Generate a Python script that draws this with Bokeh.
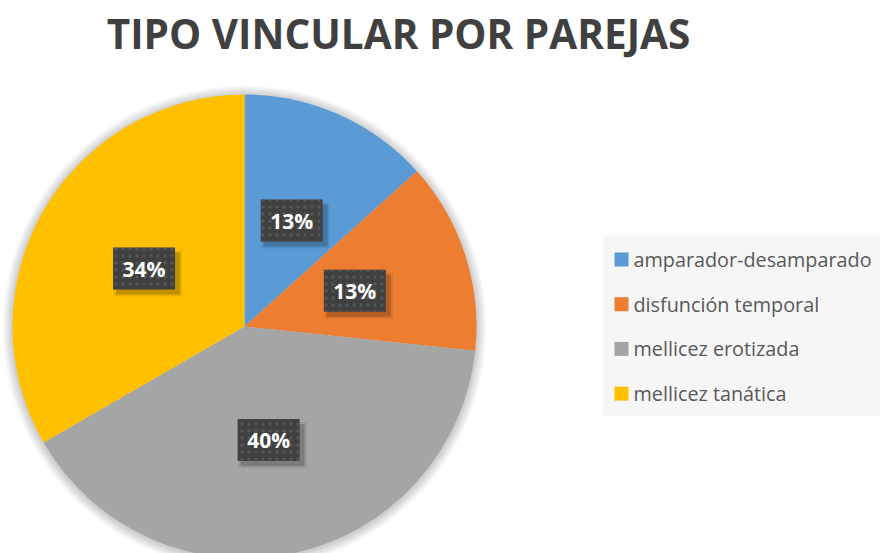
import math
from bokeh.plotting import figure
from bokeh.models import ColumnDataSource, Range1d, Label
from bokeh.embed import file_html
from bokeh.resources import INLINE
from bokeh.core.properties import value

# ---- data ----
title_text = "TIPO VINCULAR POR PAREJAS"
categories = ["amparador-desamparado", "disfunción temporal", "mellicez erotizada", "mellicez tanática"]
counts = [2, 2, 6, 5]
pct_labels = ["13%", "13%", "40%", "34%"]
colors = ["#5B9BD5", "#ED7D31", "#A5A5A5", "#FFC000"]

W, H = 880, 553
cx, cy, R = 244, H - 326, 232

total = sum(counts)
starts, ends, mids = [], [], []
acc = 0
for c in counts:
    a0 = math.pi / 2 - 2 * math.pi * acc / total
    acc += c
    a1 = math.pi / 2 - 2 * math.pi * acc / total
    starts.append(a0)
    ends.append(a1)
    mids.append((a0 + a1) / 2)

lx = [cx + 0.5 * R * math.cos(m) for m in mids]
ly = [cy + 0.5 * R * math.sin(m) for m in mids]

src = ColumnDataSource(dict(cat=categories, start=starts, end=ends, color=colors,
                            lab=pct_labels, lx=lx, ly=ly,
                            sx=[x + 4 for x in lx], sy=[y - 5 for y in ly]))

p = figure(width=W, height=H, x_range=Range1d(0, W), y_range=Range1d(0, H),
           output_backend="svg", toolbar_location=None, min_border=0,
           x_axis_type=None, y_axis_type=None)
p.grid.visible = False
p.outline_line_color = None
p.background_fill_color = "white"

# soft glow around the pie
for k in range(1, 11):
    p.circle(x=cx, y=cy - 1, radius=R + k, fill_color="black", fill_alpha=0.018, line_color=None)

p.wedge(x=cx, y=cy, radius=R, start_angle="start", end_angle="end",
        direction="clock", fill_color="color", line_color=None, source=src)

# label boxes with shadow
p.rect(x="sx", y="sy", width=64, height=42, fill_color="black", fill_alpha=0.18, line_color=None, source=src)
p.rect(x="sx", y="sy", width=68, height=46, fill_color="black", fill_alpha=0.08, line_color=None, source=src)
p.rect(x="lx", y="ly", width=62, height=42, fill_color="#404040", line_color=None,
       hatch_pattern="dot", hatch_color="#555555", hatch_scale=7, hatch_weight=2, source=src)
p.text(x="lx", y="ly", text="lab", text_align="center", text_baseline="middle",
       text_font=value("Open Sans"), text_font_style="bold", text_font_size="21px",
       text_color="white", source=src)

title = Label(x=398, y=H - 33, text=title_text, text_align="center", text_baseline="middle",
              text_font="Open Sans", text_font_style="bold", text_font_size="40.5px",
              text_color="#404040")
p.add_layout(title)

# legend (drawn in pixel-unit data space)
leg_top, leg_bottom, leg_left = 235, 415, 603
p.quad(left=leg_left, right=W + 10, top=H - leg_top, bottom=H - leg_bottom,
       fill_color="#f6f6f6", line_color=None)
row_y = [H - (259 + 44.7 * i) for i in range(len(categories))]
leg_src = ColumnDataSource(dict(cat=categories, color=colors, y=row_y))
p.rect(x=621, y="y", width=14, height=14, fill_color="color", line_color=None, source=leg_src)
p.text(x=633, y="y", text="cat", text_align="left", text_baseline="middle",
       text_font=value("Open Sans"), text_font_size="19.8px", text_color="#595959",
       source=leg_src)

open("out.html", "w").write(file_html(p, INLINE))
